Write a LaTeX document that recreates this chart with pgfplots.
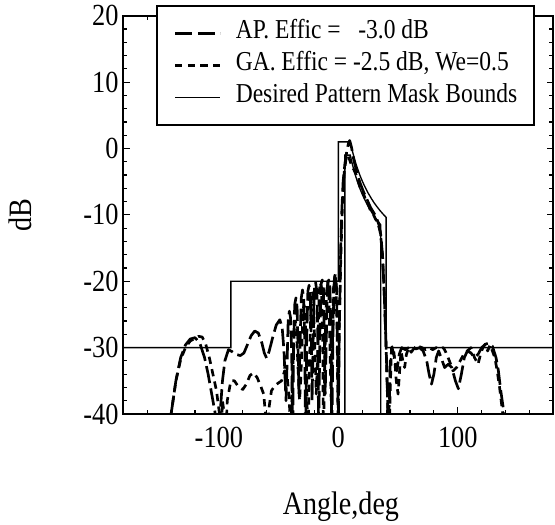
\documentclass[border=0pt]{standalone}
\usepackage{fontspec}
\setmainfont{Liberation Serif}[FakeStretch=0.86]
\usepackage{pgfplots}
\pgfplotsset{compat=1.18}
\begin{document}
\begin{tikzpicture}
\begin{axis}[
  scale only axis, width=322.5pt, height=298.7pt,
  xmin=-180, xmax=180, ymin=-40, ymax=20,
  xtick={-100,0,100}, minor xtick={-180,-160,...,180},
  ytick={-40,-30,...,20}, minor ytick={-40,-38,...,20},
  tick align=inside,
  xtick pos=both, ytick pos=both,
  major tick length=5pt, minor tick length=3pt,
  every tick/.style={black, line width=0.9pt},
  axis line style={line width=1.4pt},
  tick label style={font=\fontsize{23}{27}\selectfont},
  /pgf/number format/assume math mode=true,
  xticklabel style={yshift=-6pt},
  xlabel={Angle,deg}, ylabel={dB},
  label style={font=\fontsize{24.5}{29}\selectfont},
  xlabel style={at={(axis description cs:0.506,-0.2531)}, anchor=base},
  ylabel style={at={(axis description cs:-0.214,0.5)}, anchor=base},
  legend style={at={(0.076,1.027)}, anchor=north west, draw=black, line width=1.2pt,
    fill=white, inner xsep=12.75pt, inner ysep=12.6pt,
    font=\fontsize{20.5}{24}\selectfont, row sep=8pt,
    nodes={inner sep=0pt, text height=12pt, text depth=4pt},
    /tikz/every odd column/.append style={column sep=10.5pt}},
  legend cell align=left,
  legend image code/.code={\draw[#1] (0pt,0pt) -- (34pt,0pt);},
]
\addplot[black, line width=2pt, dash pattern=on 13pt off 4pt, line join=round] coordinates {
(-146,-50) (-140,-40) (-136,-35) (-132,-31.5) (-128,-29.6) (-124,-28.7) (-120,-28.5) (-116,-29.3) (-112,-31.5) (-109,-34) (-106,-37) (-103,-40) (-101,-46) (-99,-40) (-97,-35) (-95,-32) (-92,-30.3) (-89,-30.6) (-86,-31) (-82,-31.2) (-79,-30.8) (-76,-29.5) (-73,-28.2) (-70,-27.5) (-67,-27.8) (-64,-29.3) (-62,-30.8) (-60,-31.6) (-58,-30.6) (-55,-28.5) (-52,-26.6) (-49,-25.8) (-47,-27) (-45.5,-30.5) (-44.5,-35) (-43.8,-38) (-43,-33) (-42,-26) (-41,-24.5) (-40,-25.5) (-39,-31) (-38.3,-45) (-37.5,-30) (-36.5,-23.5) (-35.5,-22.5) (-34.5,-24) (-33.5,-32) (-33,-37) (-32,-29) (-31,-22.5) (-30,-21.3) (-29,-22.5) (-28,-30) (-27.5,-45) (-26.5,-29) (-25.5,-21.5) (-24.5,-20.6) (-23.5,-22) (-22.5,-30) (-22,-38) (-21,-28) (-20,-21) (-19,-20.2) (-18,-21.5) (-17,-30) (-16.5,-45) (-15.5,-28) (-14.5,-20.5) (-13.5,-19.8) (-12.5,-21) (-11.5,-30) (-11,-37) (-10,-28) (-9,-20.5) (-8,-19.8) (-7,-21) (-6,-30) (-5.5,-45) (-4.5,-28) (-3.5,-20) (-2.5,-18.8) (-1.5,-21) (-0.7,-30) (0,-42) (0.8,-27) (2,-15) (3,-9) (4,-5) (5.5,-2.3) (7,-0.5) (8.5,0.8) (9.5,1.2) (11,0.2) (13,-1.8) (15.5,-3.6) (18,-5.1) (21,-6.5) (24,-7.7) (27,-8.9) (30,-9.8) (32,-10.5) (34,-11.5) (35.5,-13) (37,-16) (38.5,-22) (40,-30) (41,-36) (42,-43) (43.5,-32) (45,-30) (47,-31.5) (49,-33.5) (51,-31) (53,-30) (56,-30.3) (59,-30) (62,-29.8) (65,-30.2) (68,-30) (71,-30.5) (74,-32) (76,-34) (78,-35.5) (80,-34) (82,-31.5) (84,-30.5) (86,-31.5) (89,-33) (92,-32.5) (95,-33) (98,-35) (100.5,-36.2) (103,-34) (105.5,-31.5) (108,-30.5) (111,-30.8) (114,-31.5) (117,-31) (120,-30) (123,-29.5) (126,-29.3) (129,-29.8) (132,-31.5) (134,-33.5) (136,-36.5) (138,-39) (140,-42) (142,-50)
};
\addlegendentry{AP. Effic = \ \ -3.0 dB}
\addplot[black, line width=2pt, dash pattern=on 5.5pt off 4pt, line join=round] coordinates {
(-146,-50) (-140,-40) (-136,-35) (-132,-31.8) (-128,-30) (-124,-29) (-120,-28.6) (-117,-28.3) (-114,-28.4) (-111,-29.5) (-108,-31.5) (-105,-34) (-102,-36.5) (-99.5,-40) (-98.5,-46) (-97,-38) (-95.5,-40) (-94.5,-45) (-93,-38) (-90,-35) (-87,-35) (-84,-35.8) (-80,-36.3) (-77,-35.5) (-74,-34.2) (-71,-33.8) (-68,-34.5) (-65,-35.8) (-62.5,-37) (-61,-40) (-60,-46) (-58,-39) (-56,-36.5) (-53,-35.7) (-50,-35.3) (-47.5,-35) (-45,-33.5) (-43,-34) (-41.5,-37) (-40.5,-40) (-40,-46) (-38.5,-35) (-37,-28) (-36,-26) (-35,-27) (-34,-32) (-33,-36) (-32.5,-38) (-31.5,-35) (-30,-27) (-29,-23.5) (-28,-24) (-27,-30) (-26,-40) (-25.5,-46) (-24.5,-35) (-23,-24) (-22,-21.5) (-21,-22) (-20,-28) (-19,-34) (-18.5,-37) (-17.5,-32) (-16,-21.5) (-15,-20.2) (-14,-21) (-13,-30) (-12.5,-46) (-11.5,-33) (-10,-22) (-9,-20) (-8,-21.5) (-7,-30) (-6,-38) (-5,-30) (-4,-21) (-3,-19.2) (-2,-20.5) (-1,-28) (-0.2,-42) (0.7,-28) (2,-17) (3.5,-8) (5,-3.5) (6.5,-1.5) (7.8,-1) (9,-1.5) (11,-2.5) (13,-3.2) (15,-4) (17,-5.2) (19,-6.3) (21,-6.8) (23,-7.8) (25,-8.4) (27,-9.4) (29,-9.8) (31,-10.6) (33,-11.2) (35,-12.5) (36.5,-15) (38,-20) (39.5,-27) (40.5,-33) (41.5,-40) (42.5,-46) (43.5,-36) (44.5,-30) (46,-29.8) (47.5,-32.5) (48.5,-35) (50,-37) (51.5,-33) (52.5,-30.5) (54,-32) (55.5,-33) (57,-31) (59,-30) (61,-30.7) (63,-30.2) (65,-30) (67,-29.8) (70,-30) (73,-30.3) (76,-30) (79,-30.3) (82,-30) (85,-30.2) (88,-30) (90,-30.7) (93,-32) (96,-33.5) (99,-33) (102,-32) (105,-31) (108,-30.5) (111,-30) (114,-31.5) (117,-32.5) (119,-31) (121,-30) (123,-29.5) (125,-30.5) (127,-29.6) (129,-30.5) (131,-31.5) (133,-33.5) (135,-36) (137,-39) (139,-42) (141,-50)
};
\addlegendentry{GA. Effic = -2.5 dB, We=0.5}
\addplot[black, line width=1pt] coordinates {
(-180,-30) (-90,-30) (-90,-20) (0,-20) (0,1) (10,1) (12,-0.56) (15,-2.47) (18,-4.01) (20,-4.89) (22,-5.68) (25,-6.73) (28,-7.64) (30,-8.19) (32,-8.69) (35,-9.38) (38,-9.99) (40,-10.37) (40,-30) (180,-30)
};
\addlegendentry{Desired Pattern Mask Bounds}
\addplot[black, line width=1pt, forget plot] coordinates {
(5.5,-40) (5.5,-1) (10,-1) (12,-2.56) (15,-4.47) (18,-6.01) (20,-6.89) (22,-7.68) (25,-8.73) (28,-9.64) (30,-10.19) (32,-10.69) (35.5,-11.49) (35.5,-40)
};
\end{axis}
\pgfresetboundingbox
\path (current axis.south west) ++(-92.5pt,-82.5pt) rectangle ++(416.25pt,393pt);
\end{tikzpicture}
\end{document}
